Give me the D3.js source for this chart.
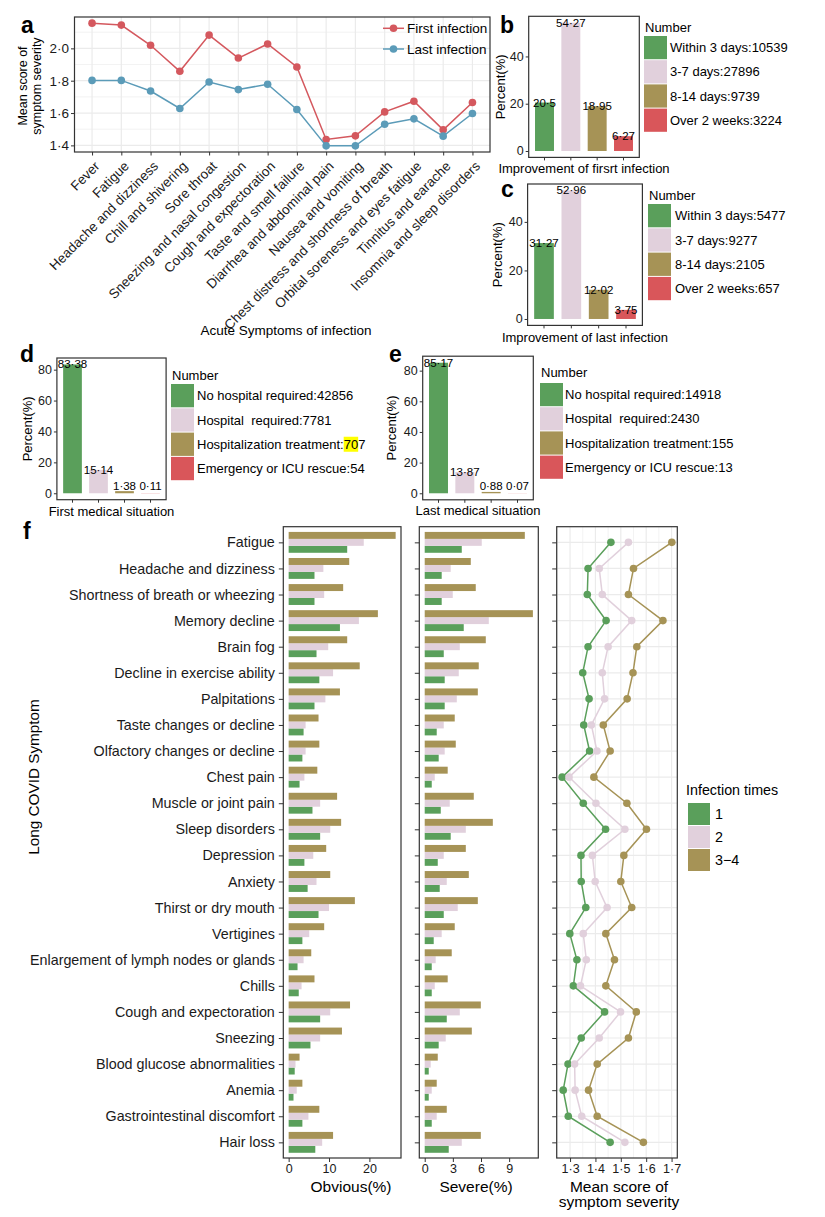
<!DOCTYPE html>
<html lang="en">
<head>
<meta charset="UTF-8">
<title>Acute and long COVID symptoms</title>
<script src="https://d3js.org/d3.v7.min.js"></script>
<style>
  body { margin: 0; background: #fff; }
  svg { display: block; font-family: "Liberation Sans", Arial, sans-serif; }
</style>
</head>
<body>
<svg width="825" height="1217"></svg>
<script>
// ---- panel a data ----
const acuteSymptoms = ["Fever", "Fatigue", "Headache and dizziness", "Chill and shivering", "Sore throat",
  "Sneezing and nasal congestion", "Cough and expectoration", "Taste and smell failure",
  "Diarrhea and abdominal pain", "Nausea and vomiting", "Chest distress and shortness of breath",
  "Orbital soreness and eyes fatigue", "Tinnitus and earache", "Insomnia and sleep disorders"];
const firstInfection = [2.156, 2.144, 2.019, 1.858, 2.082, 1.940, 2.027, 1.885, 1.436, 1.459, 1.607, 1.673, 1.496, 1.665];
const lastInfection = [1.802, 1.802, 1.736, 1.628, 1.792, 1.745, 1.778, 1.622, 1.397, 1.397, 1.531, 1.564, 1.457, 1.597];

// ---- panels b-e data ----
const improveFirstLabels = ["Within 3 days:10539", "3-7 days:27896", "8-14 days:9739", "Over 2 weeks:3224"];
const improveFirstPct = [20.5, 54.27, 18.95, 6.27];
const improveLastLabels = ["Within 3 days:5477", "3-7 days:9277", "8-14 days:2105", "Over 2 weeks:657"];
const improveLastPct = [31.27, 52.96, 12.02, 3.75];
const medFirstLabels = ["No hospital required:42856", "Hospital  required:7781", "Hospitalization treatment:707", "Emergency or ICU rescue:54"];
const medFirstPct = [83.38, 15.14, 1.38, 0.11];
const medLastLabels = ["No hospital required:14918", "Hospital  required:2430", "Hospitalization treatment:155", "Emergency or ICU rescue:13"];
const medLastPct = [85.17, 13.87, 0.88, 0.07];
const improveTicks = [0, 20, 40];
const medTicks = [0, 20, 40, 60, 80];

// ---- panel f data ----
const longSymptoms = ["Fatigue", "Headache and dizziness", "Shortness of breath or wheezing", "Memory decline",
  "Brain fog", "Decline in exercise ability", "Palpitations", "Taste changes or decline",
  "Olfactory changes or decline", "Chest pain", "Muscle or joint pain", "Sleep disorders", "Depression",
  "Anxiety", "Thirst or dry mouth", "Vertigines", "Enlargement of lymph nodes or glands", "Chills",
  "Cough and expectoration", "Sneezing", "Blood glucose abnormalities", "Anemia",
  "Gastrointestinal discomfort", "Hair loss"];
const infectionTimes = ["1", "2", "3−4"];
const obvious1 = [14.5, 6.4, 6.4, 12.7, 6.9, 7.6, 6.4, 3.7, 3.4, 2.7, 5.9, 7.8, 3.9, 4.7, 7.4, 3.4, 2.2, 2.5, 7.8, 5.4, 1.5, 1.2, 3.4, 6.6];
const obvious2 = [18.6, 8.6, 8.8, 17.4, 9.8, 11.0, 9.1, 4.2, 4.2, 3.9, 7.8, 10.3, 6.1, 6.9, 10.0, 5.1, 3.7, 3.2, 10.3, 7.8, 1.7, 2.0, 4.9, 8.3];
const obvious34 = [26.5, 15.0, 13.5, 22.1, 14.5, 17.6, 12.7, 7.4, 7.6, 7.1, 12.0, 13.0, 9.3, 10.3, 16.4, 8.8, 5.6, 6.4, 15.2, 13.2, 2.7, 3.4, 7.6, 11.0];
const severe1 = [3.95, 1.81, 1.81, 4.16, 2.03, 2.13, 2.13, 1.28, 1.49, 0.75, 1.71, 2.77, 1.39, 1.60, 2.03, 0.96, 0.75, 0.75, 2.35, 1.49, 0.43, 0.43, 0.75, 2.56];
const severe2 = [6.08, 2.77, 2.99, 6.83, 3.74, 3.63, 3.42, 2.03, 2.13, 1.07, 2.67, 4.38, 2.03, 2.35, 3.52, 1.81, 1.17, 1.07, 3.74, 2.24, 0.64, 0.75, 1.28, 3.95];
const severe34 = [10.67, 4.91, 5.44, 11.53, 6.51, 5.76, 5.66, 3.20, 3.31, 2.45, 5.23, 7.26, 4.38, 4.70, 5.66, 3.20, 2.88, 2.45, 5.98, 5.02, 1.39, 1.28, 2.35, 5.98];
const score1 = [1.461, 1.371, 1.368, 1.442, 1.371, 1.350, 1.375, 1.354, 1.377, 1.269, 1.352, 1.440, 1.343, 1.344, 1.362, 1.299, 1.327, 1.313, 1.436, 1.344, 1.292, 1.273, 1.293, 1.458];
const score2 = [1.530, 1.415, 1.427, 1.543, 1.450, 1.427, 1.436, 1.384, 1.406, 1.296, 1.402, 1.516, 1.388, 1.399, 1.446, 1.352, 1.364, 1.341, 1.499, 1.415, 1.318, 1.320, 1.346, 1.516];
const score34 = [1.701, 1.550, 1.530, 1.666, 1.563, 1.548, 1.525, 1.431, 1.458, 1.394, 1.524, 1.601, 1.512, 1.500, 1.543, 1.441, 1.475, 1.441, 1.561, 1.530, 1.407, 1.373, 1.407, 1.589];
const obviousTicks = [0, 10, 20];
const severeTicks = [0, 3, 6, 9];
const scoreTicks = [1.3, 1.4, 1.5, 1.6, 1.7];

const GREEN = "#5a9f5b", PINK = "#e1d0dc", OLIVE = "#a69356", RED = "#d9565a";
const LINE_RED = "#d4585e", BLUE = "#5b9bb8";
const BORDER = "#333", GRID = "#ebebeb", TXT = "#1a1a1a";
const catColors = [GREEN, PINK, OLIVE, RED];
const timeColors = { "1": GREEN, "2": PINK, "3−4": OLIVE };

const svg = d3.select("svg");
const dot = s => String(s).replace(".", "·");
// ggplot-style 5% expansion
const expand = (lo, hi) => { const p = (hi - lo) * 0.05; return [lo - p, hi + p]; };

function styleAxis(g, size) {
  g.select(".domain").remove();
  g.attr("color", BORDER);
  g.selectAll("text").attr("font-size", size).attr("font-family", null).attr("fill", TXT);
  g.selectAll("line").attr("stroke-width", 1);
}

function panelLetter(t, x, y) {
  svg.append("text").attr("x", x).attr("y", y).attr("font-size", 23).attr("font-weight", "bold").text(t);
}

function frame(g, b) {
  g.append("rect").attr("x", b.x0).attr("y", b.y0).attr("width", b.x1 - b.x0).attr("height", b.y1 - b.y0)
    .attr("fill", "none").attr("stroke", BORDER).attr("stroke-width", 1.2);
}

// ================= panel a =================
{
  const b = { x0: 74.5, x1: 490, y0: 17, y1: 152 };
  const g = svg.append("g");
  const x = d3.scalePoint().domain(acuteSymptoms).range([b.x0, b.x1]).padding(0.6);
  const y = d3.scaleLinear()
    .domain(expand(d3.min(firstInfection.concat(lastInfection)), d3.max(firstInfection.concat(lastInfection))))
    .range([b.y1, b.y0]);
  const major = y.ticks(5);
  const minor = y.ticks(10).filter(t => !major.some(m => Math.abs(m - t) < 1e-9));

  g.selectAll(".gmin").data(minor).join("line")
    .attr("x1", b.x0).attr("x2", b.x1).attr("y1", d => y(d)).attr("y2", d => y(d))
    .attr("stroke", GRID).attr("stroke-width", 0.6);
  g.selectAll(".gmaj").data(major).join("line")
    .attr("x1", b.x0).attr("x2", b.x1).attr("y1", d => y(d)).attr("y2", d => y(d))
    .attr("stroke", GRID).attr("stroke-width", 1.2);
  g.selectAll(".gv").data(acuteSymptoms).join("line")
    .attr("x1", d => x(d)).attr("x2", d => x(d)).attr("y1", b.y0).attr("y2", b.y1)
    .attr("stroke", GRID).attr("stroke-width", 1.2);

  const series = [
    { name: "First infection", values: firstInfection, color: LINE_RED },
    { name: "Last infection", values: lastInfection, color: BLUE }
  ];
  const line = d3.line().x((d, i) => x(acuteSymptoms[i])).y(d => y(d));
  series.forEach(s => {
    g.append("path").attr("d", line(s.values)).attr("fill", "none").attr("stroke", s.color).attr("stroke-width", 1.5);
    g.selectAll(null).data(s.values).join("circle")
      .attr("cx", (d, i) => x(acuteSymptoms[i])).attr("cy", d => y(d)).attr("r", 3.8).attr("fill", s.color);
  });

  // legend inside the panel
  series.forEach((s, i) => {
    const ly = 28.3 + i * 20.7;
    g.append("line").attr("x1", 383).attr("x2", 404).attr("y1", ly).attr("y2", ly)
      .attr("stroke", s.color).attr("stroke-width", 1.5);
    g.append("circle").attr("cx", 393.5).attr("cy", ly).attr("r", 3.8).attr("fill", s.color);
    g.append("text").attr("x", 407).attr("y", ly).attr("dy", "0.35em").attr("font-size", 13.5).text(s.name);
  });

  frame(g, b);

  g.append("g").attr("transform", `translate(${b.x0},0)`)
    .call(d3.axisLeft(y).tickValues(major).tickSize(3.5).tickPadding(2).tickFormat(d => dot(d3.format(".1f")(d))))
    .call(ax => styleAxis(ax, 13.5));

  g.append("g").attr("transform", `translate(0,${b.y1})`)
    .call(d3.axisBottom(x).tickSize(3.5).tickSizeOuter(0))
    .call(ax => styleAxis(ax, 13.5))
    .call(ax => ax.selectAll("text").attr("x", 0).attr("y", 0).attr("dy", null)
      .attr("text-anchor", "end").attr("transform", "translate(8,15) rotate(-45)"));

  g.append("text").attr("transform", "translate(27,86) rotate(-90)").attr("text-anchor", "middle")
    .attr("font-size", 12.5).text("Mean score of");
  g.append("text").attr("transform", "translate(40.5,86) rotate(-90)").attr("text-anchor", "middle")
    .attr("font-size", 12.5).text("symptom severity");
  g.append("text").attr("x", 286).attr("y", 335).attr("text-anchor", "middle").attr("font-size", 13.5)
    .text("Acute Symptoms of infection");
  panelLetter("a", 21, 33);
}

// ================= panels b-e =================
function barPanel(cfg) {
  const b = cfg.box;
  const g = svg.append("g");
  const x = d3.scaleBand().domain(cfg.labels).range([b.x0, b.x1]).paddingInner(0.28).paddingOuter(0.24);
  const y = d3.scaleLinear().domain(expand(0, d3.max(cfg.values))).range([b.y1, b.y0]);

  g.selectAll(".bar").data(cfg.values).join("rect")
    .attr("x", (d, i) => x(cfg.labels[i])).attr("width", x.bandwidth())
    .attr("y", d => y(d)).attr("height", d => y(0) - y(d))
    .attr("fill", (d, i) => catColors[i]);

  g.selectAll(".val").data(cfg.values).join("text")
    .attr("x", (d, i) => x(cfg.labels[i]) + x.bandwidth() / 2)
    .attr("y", d => Math.min(y(d), y(0) - 7.5)).attr("dy", "0.35em")
    .attr("text-anchor", "middle").attr("font-size", 11.5).text(d => dot(d));

  frame(g, b);

  g.append("g").attr("transform", `translate(${b.x0},0)`)
    .call(d3.axisLeft(y).tickValues(cfg.ticks).tickSize(3).tickPadding(2))
    .call(ax => styleAxis(ax, 12.5));
  g.append("g").attr("transform", `translate(0,${b.y1})`)
    .call(d3.axisBottom(x).tickSize(3).tickFormat(""))
    .call(ax => styleAxis(ax, 12.5));

  g.append("text").attr("transform", `translate(${cfg.yTitleX},${(b.y0 + b.y1) / 2}) rotate(-90)`)
    .attr("text-anchor", "middle").attr("font-size", 13).text("Percent(%)");
  g.append("text").attr("x", (b.x0 + b.x1) / 2).attr("y", cfg.xTitleY).attr("text-anchor", "middle")
    .attr("font-size", 13).text(cfg.xTitle);

  // legend
  const L = cfg.legend;
  g.append("text").attr("x", L.x + 1).attr("y", L.titleY).attr("dy", "0.35em").attr("font-size", 13).text("Number");
  cfg.labels.forEach((lab, i) => {
    const ky = L.keyY + i * L.step;
    g.append("rect").attr("x", L.x).attr("y", ky).attr("width", 23).attr("height", L.step - 1).attr("fill", catColors[i]);
    const t = g.append("text").attr("x", L.textX).attr("y", ky + (L.step - 1) / 2).attr("dy", "0.35em")
      .attr("font-size", 13).style("white-space", "pre").text(lab);
    if (cfg.highlight === i) {
      const node = t.node();
      const start = lab.indexOf(":") + 1;
      const x0 = L.textX + node.getSubStringLength(0, start);
      const w = node.getSubStringLength(start, 2);
      g.insert("rect", () => node).attr("x", x0).attr("y", ky + (L.step - 1) / 2 - 7.5)
        .attr("width", w).attr("height", 15).attr("fill", "#ffff00");
    }
  });
  panelLetter(cfg.letter, cfg.letterX, cfg.letterY);
}

barPanel({
  labels: improveFirstLabels, values: improveFirstPct, ticks: improveTicks,
  box: { x0: 528.7, x1: 639.3, y0: 16.3, y1: 157.4 }, yTitleX: 505, xTitleY: 172.5,
  xTitle: "Improvement of firsrt infection",
  legend: { x: 644, titleY: 27, keyY: 36, step: 24.2, textX: 670 },
  letter: "b", letterX: 500, letterY: 33
});
barPanel({
  labels: improveLastLabels, values: improveLastPct, ticks: improveTicks,
  box: { x0: 527.6, x1: 642.4, y0: 184, y1: 325.4 }, yTitleX: 502, xTitleY: 341.5,
  xTitle: "Improvement of last infection",
  legend: { x: 648, titleY: 195, keyY: 204, step: 24.3, textX: 675 },
  letter: "c", letterX: 501, letterY: 197
});
barPanel({
  labels: medFirstLabels, values: medFirstPct, ticks: medTicks,
  box: { x0: 56.9, x1: 166.1, y0: 358, y1: 499.7 }, yTitleX: 32, xTitleY: 516,
  xTitle: "First medical situation",
  legend: { x: 171, titleY: 375.7, keyY: 384, step: 24.3, textX: 197 },
  highlight: 2,
  letter: "d", letterX: 20, letterY: 362
});
barPanel({
  labels: medLastLabels, values: medLastPct, ticks: medTicks,
  box: { x0: 422.7, x1: 533.3, y0: 356.2, y1: 499.8 }, yTitleX: 395.5, xTitleY: 514.5,
  xTitle: "Last medical situation",
  legend: { x: 540, titleY: 372.7, keyY: 383, step: 24.2, textX: 565 },
  letter: "e", letterX: 389, letterY: 362
});

// ================= panel f =================
{
  const y0 = 526.7, y1 = 1158;
  const yBand = d3.scaleBand().domain(longSymptoms).range([y0, y1]).paddingInner(0.2).paddingOuter(0.2);
  const ySub = d3.scaleBand().domain(["3−4", "2", "1"]).range([0, yBand.bandwidth()]);
  const yPt = d3.scalePoint().domain(longSymptoms).range([y0, y1]).padding(0.6);

  const barSets = [
    { box: { x0: 283.3, x1: 401, y0, y1 }, data: { "1": obvious1, "2": obvious2, "3−4": obvious34 },
      ticks: obviousTicks, title: ["Obvious(%)"], titleX: 351, labels: true },
    { box: { x0: 419.3, x1: 538.3, y0, y1 }, data: { "1": severe1, "2": severe2, "3−4": severe34 },
      ticks: severeTicks, title: ["Severe(%)"], titleX: 476, labels: false }
  ];

  barSets.forEach(p => {
    const g = svg.append("g");
    const all = [].concat(...Object.values(p.data));
    const x = d3.scaleLinear().domain(expand(0, d3.max(all))).range([p.box.x0, p.box.x1]);
    infectionTimes.forEach(k => {
      g.selectAll(null).data(p.data[k]).join("rect")
        .attr("x", x(0)).attr("width", d => x(d) - x(0))
        .attr("y", (d, i) => yBand(longSymptoms[i]) + ySub(k)).attr("height", ySub.bandwidth())
        .attr("fill", timeColors[k]);
    });
    frame(g, p.box);
    g.append("g").attr("transform", `translate(${p.box.x0},0)`)
      .call(d3.axisLeft(yPt).tickSize(4.5).tickPadding(4).tickFormat(p.labels ? d => d : ""))
      .call(ax => styleAxis(ax, 14.3));
    g.append("g").attr("transform", `translate(0,${y1})`)
      .call(d3.axisBottom(x).tickValues(p.ticks).tickSize(4).tickPadding(2))
      .call(ax => styleAxis(ax, 12.5));
    g.append("text").attr("x", p.titleX).attr("y", 1192).attr("text-anchor", "middle")
      .attr("font-size", 15.5).text(p.title[0]);
  });

  // mean score panel
  {
    const b = { x0: 556.7, x1: 677.3, y0, y1 };
    const g = svg.append("g");
    const series = { "1": score1, "2": score2, "3−4": score34 };
    const all = score1.concat(score2, score34);
    const x = d3.scaleLinear().domain(expand(d3.min(all), d3.max(all))).range([b.x0, b.x1]);
    const minor = d3.range(1.25, 1.76, 0.1).filter(v => v >= x.domain()[0] && v <= x.domain()[1]);

    g.selectAll(".gmin").data(minor).join("line")
      .attr("x1", d => x(d)).attr("x2", d => x(d)).attr("y1", b.y0).attr("y2", b.y1)
      .attr("stroke", GRID).attr("stroke-width", 0.6);
    g.selectAll(".gmaj").data(scoreTicks).join("line")
      .attr("x1", d => x(d)).attr("x2", d => x(d)).attr("y1", b.y0).attr("y2", b.y1)
      .attr("stroke", GRID).attr("stroke-width", 1.2);
    g.selectAll(".gh").data(longSymptoms).join("line")
      .attr("x1", b.x0).attr("x2", b.x1).attr("y1", d => yPt(d)).attr("y2", d => yPt(d))
      .attr("stroke", GRID).attr("stroke-width", 1.2);

    const line = d3.line().x(d => x(d)).y((d, i) => yPt(longSymptoms[i]));
    infectionTimes.forEach(k => {
      g.append("path").attr("d", line(series[k])).attr("fill", "none")
        .attr("stroke", timeColors[k]).attr("stroke-width", 1.5);
      g.selectAll(null).data(series[k]).join("circle")
        .attr("cx", d => x(d)).attr("cy", (d, i) => yPt(longSymptoms[i])).attr("r", 3.8)
        .attr("fill", timeColors[k]);
    });

    frame(g, b);
    g.append("g").attr("transform", `translate(${b.x0},0)`)
      .call(d3.axisLeft(yPt).tickSize(4.5).tickFormat(""))
      .call(ax => styleAxis(ax, 14.3));
    g.append("g").attr("transform", `translate(0,${y1})`)
      .call(d3.axisBottom(x).tickValues(scoreTicks).tickSize(4).tickPadding(2)
        .tickFormat(d => dot(d3.format(".1f")(d))))
      .call(ax => styleAxis(ax, 12.5));
    g.append("text").attr("x", 619).attr("y", 1192).attr("text-anchor", "middle")
      .attr("font-size", 15.5).text("Mean score of");
    g.append("text").attr("x", 619).attr("y", 1207).attr("text-anchor", "middle")
      .attr("font-size", 15.5).text("symptom severity");
  }

  // legend
  const lg = svg.append("g");
  lg.append("text").attr("x", 686).attr("y", 790).attr("dy", "0.35em").attr("font-size", 14.3).text("Infection times");
  infectionTimes.forEach((k, i) => {
    const ky = 803 + i * 23;
    lg.append("rect").attr("x", 688).attr("y", ky).attr("width", 22).attr("height", 22).attr("fill", timeColors[k]);
    lg.append("text").attr("x", 715).attr("y", ky + 11).attr("dy", "0.35em").attr("font-size", 14.3).text(k);
  });

  svg.append("text").attr("transform", "translate(39,777) rotate(-90)").attr("text-anchor", "middle")
    .attr("font-size", 15.3).text("Long COVID Symptom");
  panelLetter("f", 23, 539);
}
</script>
</body>
</html>
